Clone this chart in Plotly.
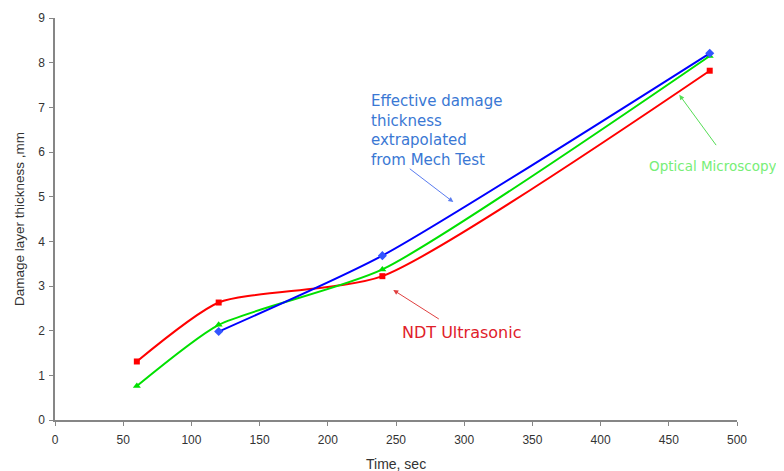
import plotly.graph_objects as go

# Data
ndt_x = [60, 120, 240, 480]
ndt_y = [1.31, 2.63, 3.22, 7.82]
opt_x = [60, 120, 240, 480]
opt_y = [0.76, 2.13, 3.37, 8.15]
mech_x = [120, 240, 480]
mech_y = [1.98, 3.68, 8.21]

x_ticks = [0, 50, 100, 150, 200, 250, 300, 350, 400, 450, 500]
y_ticks = [0, 1, 2, 3, 4, 5, 6, 7, 8, 9]

mech_label = "Effective damage<br>thickness<br>extrapolated<br>from Mech Test"

SM = 0.6
fig = go.Figure()
fig.add_trace(go.Scatter(x=ndt_x, y=ndt_y, mode="lines+markers", name="NDT Ultrasonic",
                         line=dict(color="#ff0000", width=2, shape="spline", smoothing=SM),
                         marker=dict(symbol="square", size=6, color="#ff0000")))
fig.add_trace(go.Scatter(x=opt_x, y=opt_y, mode="lines+markers", name="Optical Microscopy",
                         line=dict(color="#00e000", width=2, shape="spline", smoothing=SM),
                         marker=dict(symbol="triangle-up", size=7, color="#00e000")))
fig.add_trace(go.Scatter(x=mech_x, y=mech_y, mode="lines+markers", name="Mech Test",
                         line=dict(color="#0000ff", width=2, shape="spline", smoothing=SM),
                         marker=dict(symbol="diamond", size=7, color="#3355ff")))

afont = "DejaVu Sans"
annotations = [
    dict(x=230, y=6.48, xref="x", yref="y", showarrow=False, xanchor="left", yanchor="middle",
         align="left", text=mech_label, font=dict(family=afont, size=15, color="#3a78d4")),
    dict(x=292, y=4.88, ax=259, ay=5.65, xref="x", yref="y", axref="x", ayref="y", text="",
         showarrow=True, arrowhead=2, arrowsize=1, arrowwidth=1, arrowcolor="#5a7cf0"),
    dict(x=253, y=1.97, xref="x", yref="y", showarrow=False, xanchor="left", yanchor="middle",
         text="NDT Ultrasonic", font=dict(family=afont, size=16, color="#e0202a")),
    dict(x=248, y=2.91, ax=282.5, ay=2.24, xref="x", yref="y", axref="x", ayref="y", text="",
         showarrow=True, arrowhead=2, arrowsize=1, arrowwidth=1, arrowcolor="#e04040"),
    dict(x=434, y=5.69, xref="x", yref="y", showarrow=False, xanchor="left", yanchor="middle",
         text="Optical Microscopy", font=dict(family=afont, size=13.5, color="#77ee77")),
    dict(x=457.7, y=7.28, ax=485.5, ay=6.12, xref="x", yref="y", axref="x", ayref="y", text="",
         showarrow=True, arrowhead=2, arrowsize=1, arrowwidth=1, arrowcolor="#55dd55"),
    # axis titles
    dict(x=0.5, y=0, xref="paper", yref="paper", yshift=-34, showarrow=False,
         xanchor="center", yanchor="top", text="Time, sec",
         font=dict(family="Liberation Sans", size=14, color="#333333")),
    dict(x=0, y=0.5, xref="paper", yref="paper", xshift=-36, showarrow=False, textangle=-90,
         xanchor="center", yanchor="middle", text="Damage layer thickness ,mm",
         font=dict(family="Liberation Sans", size=13.5, color="#333333")),
]

# page body has an 8px margin, so the figure is sized/offset to land on the reference pixels
fig.update_layout(
    width=776, height=463,
    margin=dict(l=47, r=47, t=10, b=51),
    plot_bgcolor="white", paper_bgcolor="white",
    showlegend=False,
    font=dict(family="Liberation Sans", size=12, color="#333333"),
    annotations=annotations,
    xaxis=dict(range=[0, 500], tickvals=x_ticks, showgrid=False, zeroline=False, automargin=False,
               showline=True, linecolor="#868686", linewidth=1.5, ticks="outside",
               ticklen=4, tickcolor="#868686", ticklabelstandoff=4),
    yaxis=dict(range=[0, 9], tickvals=y_ticks, showgrid=False, zeroline=False, automargin=False,
               showline=True, linecolor="#868686", linewidth=1.5, ticks="outside",
               ticklen=4, tickcolor="#868686", ticklabelstandoff=2),
)

fig.write_html("out.html")
